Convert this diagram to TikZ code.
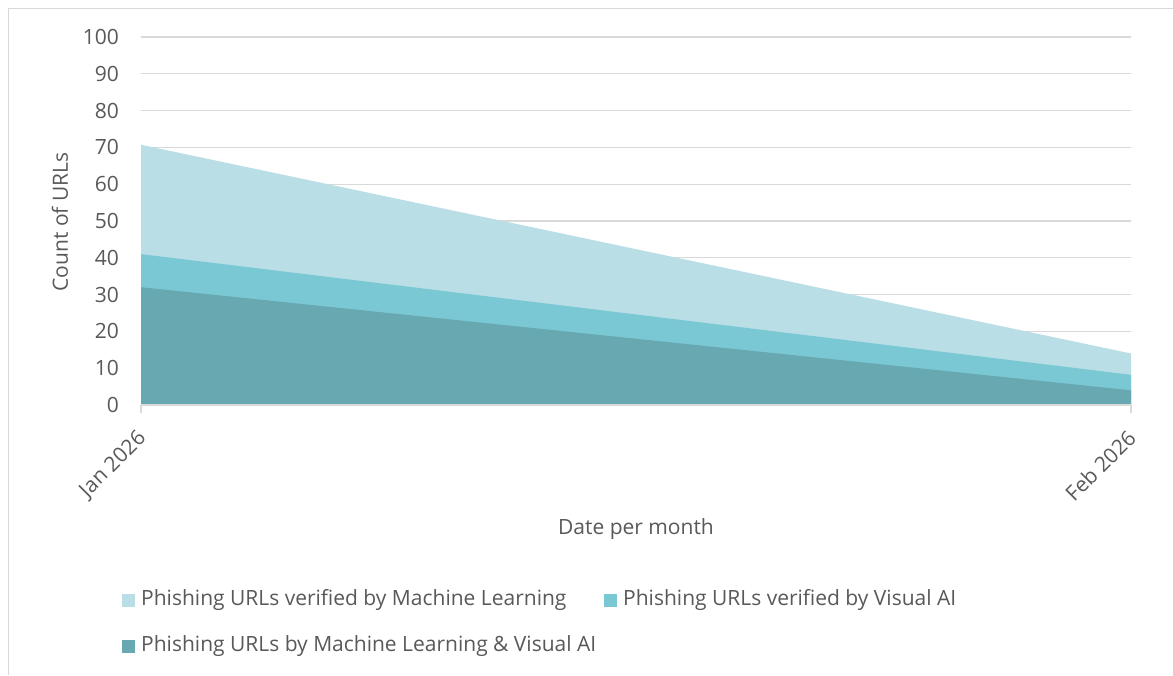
\documentclass[tikz,border=0pt]{standalone}
\usepackage{fontspec}
\setmainfont{Open Sans}
\definecolor{txt}{HTML}{595959}
\definecolor{grid}{HTML}{D9D9D9}
\definecolor{mlc}{HTML}{B9DEE5}
\definecolor{vac}{HTML}{7BC8D5}
\definecolor{bothc}{HTML}{67A8B1}
\definecolor{frame}{HTML}{D9D9D9}
\begin{document}
\begin{tikzpicture}[x=1pt,y=-1pt,
  lbl/.style={text=txt,font=\fontsize{21}{24}\selectfont,inner sep=0pt},
  gridline/.style={draw=grid,line width=1.2pt},
  legsq/.style={minimum size=13.5pt,inner sep=0pt,draw=none}]
\useasboundingbox (0,0) rectangle (1173,675);
\fill[white] (0,0) rectangle (1173,675);
\draw[frame,line width=1pt] (8,675) -- (8,8) -- (1173,8);
% gridlines
\foreach \v in {10,20,...,100}{
  \draw[gridline] (141,{405-3.68*\v}) -- (1131,{405-3.68*\v});
  \node[lbl,anchor=east] at (119,{405-3.68*\v}) {\v};
}
\node[lbl,anchor=east] at (119,405) {0};
% areas
\fill[mlc] (141,405) -- (141,144.8) -- (1131,353.5) -- (1131,405) -- cycle;
\fill[vac] (141,405) -- (141,254.1) -- (1131,374.8) -- (1131,405) -- cycle;
\fill[bothc] (141,405) -- (141,287.2) -- (1131,390.3) -- (1131,405) -- cycle;
% axis
\draw[gridline] (141,405) -- (1131,405);
\draw[gridline] (141,405) -- (141,413);
\draw[gridline] (1131,405) -- (1131,413);
\coordinate (t1) at (136,428);
\coordinate (t2) at (1126,428);
\node[lbl,anchor=north east,rotate=45] (jan) at (t1) {Jan 2026};
\node[lbl,anchor=north east,rotate=45] (feb) at (t2) {Feb 2026};
\node[lbl] (xt) at (636,529) {Date per month};
\node[lbl,rotate=90] (yt) at (60,222) {Count of URLs};
% legend
\node[legsq,fill=mlc] (s1) at (128.5,600.5) {};
\node[lbl,anchor=west] (l1) at (141,600) {Phishing URLs verified by Machine Learning};
\node[legsq,fill=vac] (s2) at (610.5,600.5) {};
\node[lbl,anchor=west] (l2) at (623,600) {Phishing URLs verified by Visual AI};
\node[legsq,fill=bothc] (s3) at (128.5,646.5) {};
\node[lbl,anchor=west] (l3) at (141,646) {Phishing URLs by Machine Learning \& Visual AI};
\end{tikzpicture}
\end{document}
